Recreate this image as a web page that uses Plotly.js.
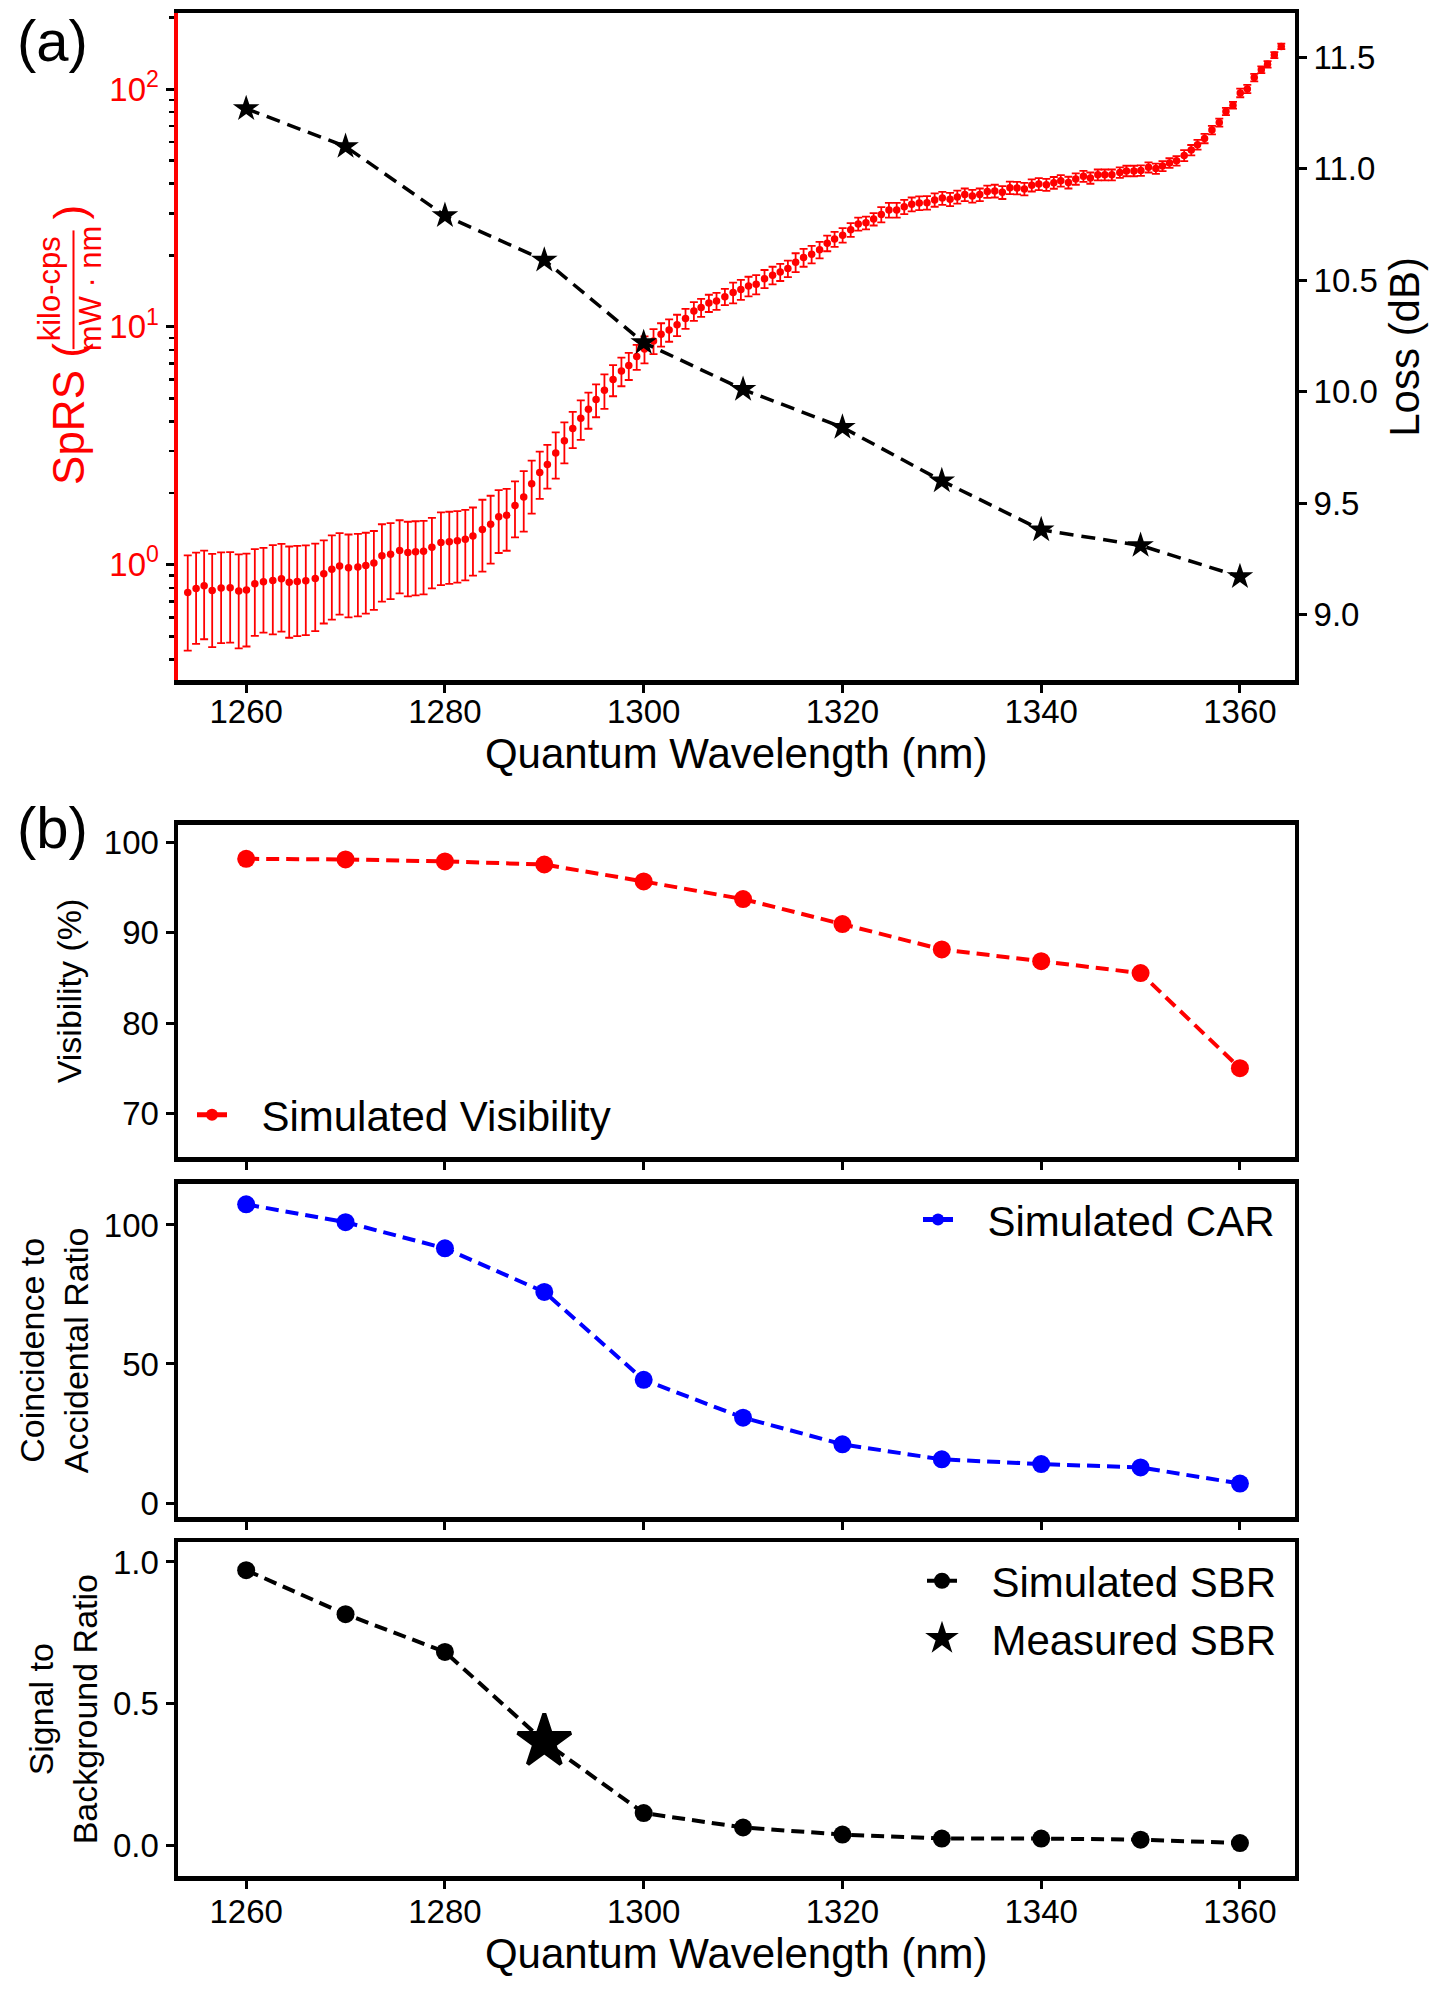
<!DOCTYPE html>
<html><head><meta charset="utf-8">
<script src="https://cdn.plot.ly/plotly-3.0.1.min.js"></script>
<style>html,body{margin:0;padding:0;background:#fff;}#chart{width:1437px;height:1991px;}</style>
</head><body><div id="chart"></div>
<script>
// ---------------- data ----------------
const wavelengths = [1260,1270,1280,1290,1300,1310,1320,1330,1340,1350,1360];
const lossDb = [11.27,11.10,10.79,10.59,10.22,10.01,9.84,9.60,9.38,9.31,9.17];

const sprsWavelength = [1254.12,1254.96,1255.77,1256.58,1257.48,1258.39,1259.25,1260.03,1260.87,1261.74,
1262.68,1263.55,1264.33,1265.14,1266.00,1266.95,1267.81,1268.62,1269.40,1270.30,
1271.24,1272.04,1272.85,1273.66,1274.53,1275.44,1276.27,1277.05,1277.85,1278.69,
1279.60,1280.44,1281.25,1282.05,1282.82,1283.77,1284.60,1285.41,1286.21,1287.05,
1287.93,1288.73,1289.54,1290.31,1291.15,1292.02,1292.86,1293.67,1294.44,1295.21,
1296.05,1296.92,1297.76,1298.50,1299.30,1300.08,1300.99,1301.75,1302.56,1303.36,
1304.21,1305.05,1305.78,1306.56,1307.33,1308.17,1309.00,1309.78,1310.55,1311.32,
1312.16,1312.97,1313.74,1314.51,1315.29,1316.09,1316.90,1317.70,1318.47,1319.21,
1320.02,1320.83,1321.59,1322.37,1323.14,1323.91,1324.68,1325.46,1326.22,1326.97,
1327.73,1328.51,1329.28,1330.05,1330.83,1331.56,1332.31,1333.07,1333.82,1334.58,
1335.33,1336.09,1336.85,1337.57,1338.31,1339.05,1339.76,1340.52,1341.27,1341.97,
1342.74,1343.48,1344.25,1344.95,1345.70,1346.40,1347.11,1347.91,1348.58,1349.33,
1350.03,1350.80,1351.54,1352.21,1352.91,1353.62,1354.39,1355.10,1355.73,1356.44,
1357.18,1357.92,1358.59,1359.30,1360.03,1360.74,1361.44,1362.15,1362.78,1363.46,1364.16];

const sprsValue = [0.765,0.795,0.816,0.78,0.798,0.80,0.775,0.783,0.832,0.848,
0.859,0.873,0.843,0.851,0.856,0.876,0.916,0.958,0.987,0.970,
0.977,0.993,1.016,1.09,1.107,1.148,1.126,1.133,1.14,1.185,
1.24,1.25,1.26,1.28,1.32,1.406,1.48,1.59,1.615,1.773,
1.927,2.19,2.44,2.64,2.95,3.32,3.74,4.13,4.51,4.95,
5.42,6.01,6.53,6.88,7.50,8.08,8.73,9.31,9.71,10.2,
10.86,11.66,12.07,12.6,12.85,13.4,13.96,14.38,14.85,15.1,
15.95,16.5,17.0,17.6,18.7,19.6,20.2,21.1,22.5,23.4,
24.3,25.6,27.1,27.4,28.4,29.7,31.0,31.0,32.0,32.8,
33.2,33.3,34.2,34.8,34.4,35.2,36.0,35.5,36.0,37.1,
37.3,36.8,38.5,38.4,38.0,39.4,39.9,39.6,40.4,41.2,
40.5,41.9,43.0,42.3,43.6,43.6,43.6,44.6,45.3,45.3,
45.5,46.9,46.3,47.5,48.9,50.0,52.6,55.4,58.4,62.0,
67.3,72.3,80.5,85.5,96.4,100.2,111.8,120.7,127.1,139.0,151.2];

const sprsError = [0.33,0.33,0.33,0.33,0.33,0.33,0.33,0.33,0.33,0.33,
0.35,0.35,0.35,0.35,0.35,0.35,0.35,0.37,0.37,0.37,
0.37,0.37,0.37,0.39,0.39,0.39,0.39,0.39,0.39,0.39,
0.42,0.42,0.42,0.42,0.42,0.47,0.47,0.47,0.47,0.47,
0.55,0.55,0.55,0.55,0.65,0.65,0.65,0.78,0.78,0.78,
0.9,0.9,0.9,0.9,0.9,1.05,1.05,1.05,1.05,1.05,
1.05,1.05,1.05,1.05,1.05,1.05,1.4,1.4,1.4,1.4,
1.4,1.4,1.4,1.4,1.7,1.7,1.7,1.7,1.7,1.7,
1.7,1.7,1.7,1.7,1.7,2.2,2.2,2.2,2.2,2.2,
2.2,2.2,2.2,2.2,2.2,2.2,2.2,2.2,2.2,2.2,
2.3,2.3,2.3,2.3,2.3,2.3,2.3,2.3,2.3,2.3,
2.3,2.3,2.3,2.3,2.3,2.3,2.3,2.3,2.3,2.3,
2.3,2.3,2.3,2.3,2.3,2.3,2.8,2.8,2.8,2.8,
2.8,2.8,2.8,2.8,4.0,4.0,4.0,4.0,4.0,4.0,4.0];

const visibility = [98.16,98.09,97.87,97.53,95.66,93.71,90.95,88.15,86.86,85.54,75.05];
const car = [107.4,101.0,91.6,75.9,44.3,30.7,21.1,15.7,14.0,12.8,7.0];
const sbrSimulated = [0.971,0.816,0.683,0.367,0.115,0.064,0.039,0.025,0.025,0.021,0.009];
const sbrMeasuredWl = [1290];
const sbrMeasured = [0.367];

const xTicks = [1260,1280,1300,1320,1340,1360];
const sprsTickVals = [1,10,100];
const sprsTickText = ['10<sup>0</sup>','10<sup>1</sup>','10<sup>2</sup>'];
const sprsMinorVals = [0.4,0.5,0.6,0.7,0.8,0.9,2,3,4,5,6,7,8,9,20,30,40,50,60,70,80,90,200];
const lossTicks = [9.0,9.5,10.0,10.5,11.0,11.5];
const visTicks = [70,80,90,100];
const carTicks = [0,50,100];
const sbrTicks = [0,0.5,1.0];

// ---------------- layout helpers ----------------
const W = 1437, H = 1991;
const FONT = 'Liberation Sans, Arial, Helvetica, sans-serif';
const RED = '#ff0000', BLUE = '#0000ff', BLACK = '#000000';
const fx = px => px / W;
const fy = py => 1 - py / H;
const X0 = 178, X1 = 1294.5;
const xRange = [1253.14, 1365.49];
const GAP = '\u2002\u2009';   // gap between legend symbol and legend text

function xAxis(anchor, showLabels, title, labelShift, titleStandoff) {
  const ax = {
    domain: [fx(X0), fx(X1)], anchor: anchor, range: xRange,
    tickmode: 'array', tickvals: xTicks, showticklabels: showLabels,
    ticks: 'outside', ticklen: 8, tickwidth: 3, tickcolor: BLACK,
    showline: true, linewidth: 4.5, linecolor: BLACK, mirror: true,
    showgrid: false, zeroline: false,
    tickfont: {family: FONT, size: 33, color: BLACK}
  };
  if (labelShift !== undefined) ax.ticklabelstandoff = labelShift;
  if (title) { ax.title = {text: title, font: {family: FONT, size: 42, color: BLACK}, standoff: titleStandoff}; ax.automargin = true; }
  return ax;
}
function yAxisB(anchor, top, bottom, range, ticks, fmt, title, standoff) {
  return {
    domain: [fy(bottom), fy(top)], anchor: anchor, range: range,
    tickmode: 'array', tickvals: ticks, tickformat: fmt,
    ticks: 'outside', ticklen: 8, tickwidth: 3, tickcolor: BLACK,
    showline: true, linewidth: 4.5, linecolor: BLACK, mirror: true,
    showgrid: false, zeroline: false, automargin: true,
    tickfont: {family: FONT, size: 33, color: BLACK},
    title: {text: title, font: {family: FONT, size: 34, color: BLACK}, standoff: standoff}
  };
}

const dashStyle = '13px,7px';

const traces = [
  {
    x: sprsWavelength, y: sprsValue, xaxis: 'x', yaxis: 'y', type: 'scatter', mode: 'markers',
    marker: {color: RED, size: 7.5},
    error_y: {type: 'data', array: sprsError, visible: true, color: RED, thickness: 1.8, width: 4},
    showlegend: false, name: 'SpRS'
  },
  {
    x: wavelengths, y: lossDb, xaxis: 'x', yaxis: 'y2', type: 'scatter', mode: 'lines+markers',
    line: {color: BLACK, width: 3.5, dash: '14px,8px'},
    marker: {symbol: 'star', size: 20, color: BLACK},
    showlegend: false, name: 'Loss'
  },
  {
    x: wavelengths, y: visibility, xaxis: 'x2', yaxis: 'y3', type: 'scatter', mode: 'lines+markers',
    line: {color: RED, width: 4, dash: dashStyle},
    marker: {symbol: 'circle', size: 18, color: RED},
    name: GAP + 'Simulated Visibility', legend: 'legend'
  },
  {
    x: wavelengths, y: car, xaxis: 'x3', yaxis: 'y4', type: 'scatter', mode: 'lines+markers',
    line: {color: BLUE, width: 4, dash: dashStyle},
    marker: {symbol: 'circle', size: 18, color: BLUE},
    name: GAP + 'Simulated CAR', legend: 'legend2'
  },
  {
    x: wavelengths, y: sbrSimulated, xaxis: 'x4', yaxis: 'y5', type: 'scatter', mode: 'lines+markers',
    line: {color: BLACK, width: 4, dash: dashStyle},
    marker: {symbol: 'circle', size: 18, color: BLACK},
    name: GAP + 'Simulated SBR', legend: 'legend3'
  },
  {
    x: sbrMeasuredWl, y: sbrMeasured, xaxis: 'x4', yaxis: 'y5', type: 'scatter', mode: 'markers',
    marker: {symbol: 'star', size: 40, color: BLACK, line: {color: BLACK, width: 4}},
    name: GAP + 'Measured SBR', legend: 'legend3'
  }
];

const legendBase = {
  bgcolor: 'rgba(0,0,0,0)', borderwidth: 0,
  font: {family: FONT, size: 42, color: BLACK},
  xanchor: 'left', yanchor: 'middle', itemwidth: 30, tracegroupgap: 0
};

const layout = {
  width: W, height: H,
  margin: {l: 0, r: 0, t: 0, b: 0, pad: 0},
  paper_bgcolor: '#ffffff', plot_bgcolor: 'rgba(0,0,0,0)',
  font: {family: FONT, color: BLACK},
  xaxis: xAxis('y', true, 'Quantum Wavelength (nm)', -9, 6),
  yaxis: {
    domain: [fy(681), fy(12.5)], anchor: 'x', type: 'log', range: [-0.486, 2.318],
    tickmode: 'array', tickvals: sprsTickVals, ticktext: sprsTickText,
    ticks: 'outside', ticklen: 8, tickwidth: 3, tickcolor: BLACK,
    minor: {tickmode: 'array', tickvals: sprsMinorVals, ticks: 'outside', ticklen: 5, tickwidth: 2.5, tickcolor: BLACK, showgrid: false},
    showline: true, linewidth: 4.5, linecolor: RED, mirror: false,
    showgrid: false, zeroline: false,
    tickfont: {family: FONT, size: 33, color: RED}
  },
  yaxis2: {
    overlaying: 'y', side: 'right', anchor: 'x', range: [8.705, 11.697],
    tickmode: 'array', tickvals: lossTicks, tickformat: '.1f',
    ticks: 'outside', ticklen: 8, tickwidth: 3, tickcolor: BLACK,
    showline: true, linewidth: 4.5, linecolor: BLACK,
    showgrid: false, zeroline: false, automargin: true,
    tickfont: {family: FONT, size: 33, color: BLACK},
    title: {text: 'Loss (dB)', font: {family: FONT, size: 42, color: BLACK}, standoff: 14}
  },
  xaxis2: xAxis('y3', false),
  xaxis3: xAxis('y4', false),
  xaxis4: xAxis('y5', true, 'Quantum Wavelength (nm)', -5, 10),
  yaxis3: yAxisB('x2', 826, 1159, [65.23, 101.9], visTicks, 'd', 'Visibility (%)', 13),
  yaxis4: yAxisB('x3', 1185.5, 1520, [-5.1, 114.9], carTicks, 'd', 'Coincidence to<br>Accidental Ratio', 6),
  yaxis5: yAxisB('x4', 1545, 1880, [-0.108, 1.070], sbrTicks, '.1f', 'Signal to<br>Background Ratio', 6),
  legend: Object.assign({}, legendBase, {x: fx(192), y: fy(1116.7), itemsizing: 'constant'}),
  legend2: Object.assign({}, legendBase, {x: fx(918), y: fy(1221.7), itemsizing: 'constant'}),
  legend3: Object.assign({}, legendBase, {x: fx(922), y: fy(1613), itemsizing: 'trace'}),
  shapes: [
    {type: 'line', xref: 'paper', yref: 'paper', x0: fx(73.5), x1: fx(73.5), y0: fy(230), y1: fy(349), line: {color: RED, width: 2}}
  ],
  annotations: [
    {text: '(a)', xref: 'paper', yref: 'paper', x: fx(15), y: fy(40), xanchor: 'left', yanchor: 'middle', showarrow: false, font: {family: FONT, size: 58, color: BLACK}},
    {text: '(b)', xref: 'paper', yref: 'paper', x: fx(15), y: fy(829), xanchor: 'left', yanchor: 'middle', showarrow: false, font: {family: FONT, size: 58, color: BLACK}},
    {text: 'SpRS (', xref: 'paper', yref: 'paper', x: fx(69), y: fy(414), xanchor: 'center', yanchor: 'middle', textangle: -90, showarrow: false, font: {family: FONT, size: 44, color: RED}},
    {text: 'kilo-cps', xref: 'paper', yref: 'paper', x: fx(49), y: fy(289), xanchor: 'center', yanchor: 'middle', textangle: -90, showarrow: false, font: {family: FONT, size: 31, color: RED}},
    {text: 'mW · nm', xref: 'paper', yref: 'paper', x: fx(90), y: fy(288), xanchor: 'center', yanchor: 'middle', textangle: -90, showarrow: false, font: {family: FONT, size: 31, color: RED}},
    {text: ')', xref: 'paper', yref: 'paper', x: fx(69), y: fy(212), xanchor: 'center', yanchor: 'middle', textangle: -90, showarrow: false, font: {family: FONT, size: 44, color: RED}}
  ]
};

Plotly.newPlot('chart', traces, layout, {staticPlot: true, displayModeBar: false});
</script>
</body></html>
